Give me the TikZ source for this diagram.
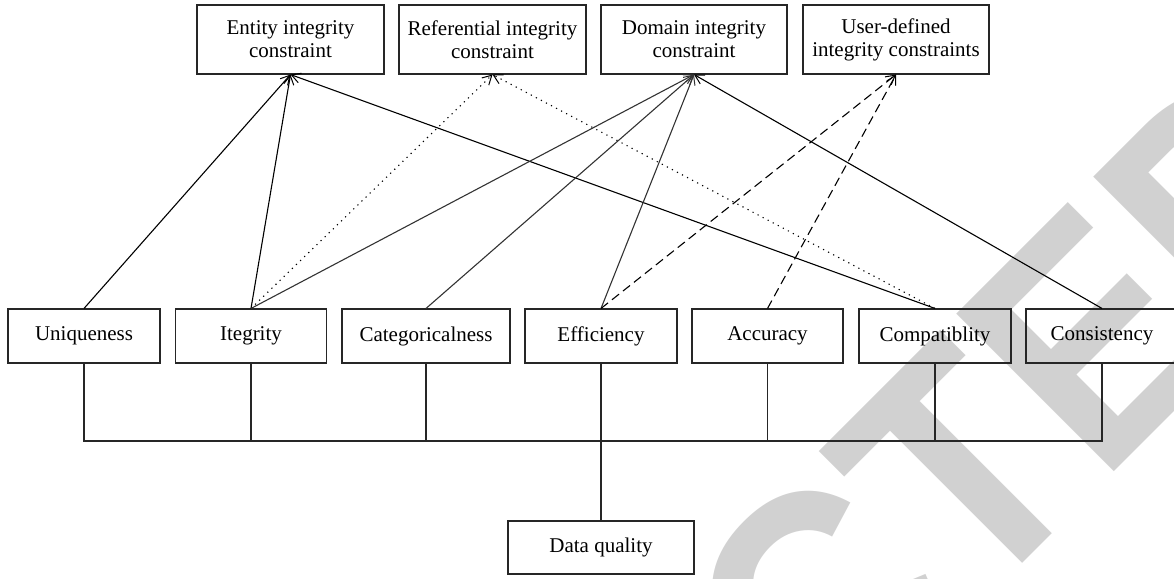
\documentclass[tikz,border=0pt]{standalone}
\usepackage{fontspec}
\setmainfont{Liberation Serif}
\newfontfamily\wmfont{Liberation Sans}
\usetikzlibrary{arrows.meta}
\tikzset{
  box/.style={draw=black!85, line width=1.1pt, inner sep=0pt, align=center,
    font=\fontsize{21}{23}\selectfont, minimum height=54pt},
  topbox/.style={box, minimum height=69pt},
  link/.style={line width=1.1pt, draw=black, -{Straight Barb[length=9pt,width=10pt,line width=1pt]}},
  dotlink/.style={link, dash pattern=on 1.2pt off 4.5pt},
  dashlink/.style={link, dash pattern=on 9pt off 5pt},
  busline/.style={line width=1.1pt, draw=black!85},
  watermark/.style={text=black!18, font=\wmfont\bfseries\fontsize{324}{324}\selectfont,
    inner sep=0pt, rotate=45, xscale=0.9, transform shape}
}
\begin{document}
\begin{tikzpicture}[x=1pt,y=-1pt]
\useasboundingbox (0,0) rectangle (1174,578);
\clip (0,0) rectangle (1174,578);
% watermark (visible part of the stamp)
\node[watermark, anchor=base east] (wm) at (1387,199) {CTED};
% top row
\node[topbox, minimum width=187pt] (ent) at (290.5,39.5) {Entity integrity\\constraint};
\node[topbox, minimum width=187pt] (ref) at (492.5,39.5) {Referential integrity\\constraint};
\node[topbox, minimum width=186pt] (dom) at (694,39.5) {Domain integrity\\constraint};
\node[topbox, minimum width=186pt] (usr) at (896,39.5) {User-defined\\integrity constraints};
% bottom row
\node[box, minimum width=152pt] (uni) at (84,336) {Uniqueness};
\node[box, minimum width=151pt] (itg) at (251,336) {Itegrity};
\node[box, minimum width=168pt] (cat) at (426,336) {Categoricalness};
\node[box, minimum width=152pt] (eff) at (601,336) {Efficiency};
\node[box, minimum width=151pt] (acc) at (767.5,336) {Accuracy};
\node[box, minimum width=152pt] (cpt) at (935,336) {Compatiblity};
\node[box, minimum width=152pt] (cns) at (1102,336) {Consistency};
\node[box, minimum width=186pt, minimum height=53pt] (dq) at (601,547.5) {Data quality};
% bus
\coordinate (bus) at (601,441);
\draw[busline] (uni.south) |- (bus);
\draw[busline] (cns.south) |- (bus);
\foreach \n in {itg,cat,acc,cpt} \draw[busline] (\n.south) -- (\n.south |- bus);
\draw[busline] (eff.south) -- (dq.north);
% links
\draw[link] (uni.north) -- (ent.south);
\draw[link] (itg.north) -- (ent.south);
\draw[link] (cpt.north) -- (ent.south);
\draw[dotlink] (itg.north) -- (ref.south);
\draw[dotlink] (cpt.north) -- (ref.south);
\draw[link, draw=black!80] (itg.north) -- (dom.south);
\draw[link, draw=black!80] (cat.north) -- (dom.south);
\draw[link, draw=black!80] (eff.north) -- (dom.south);
\draw[link] (cns.north) -- (dom.south);
\draw[dashlink] (eff.north) -- (usr.south);
\draw[dashlink] (acc.north) -- (usr.south);
\end{tikzpicture}
\end{document}
